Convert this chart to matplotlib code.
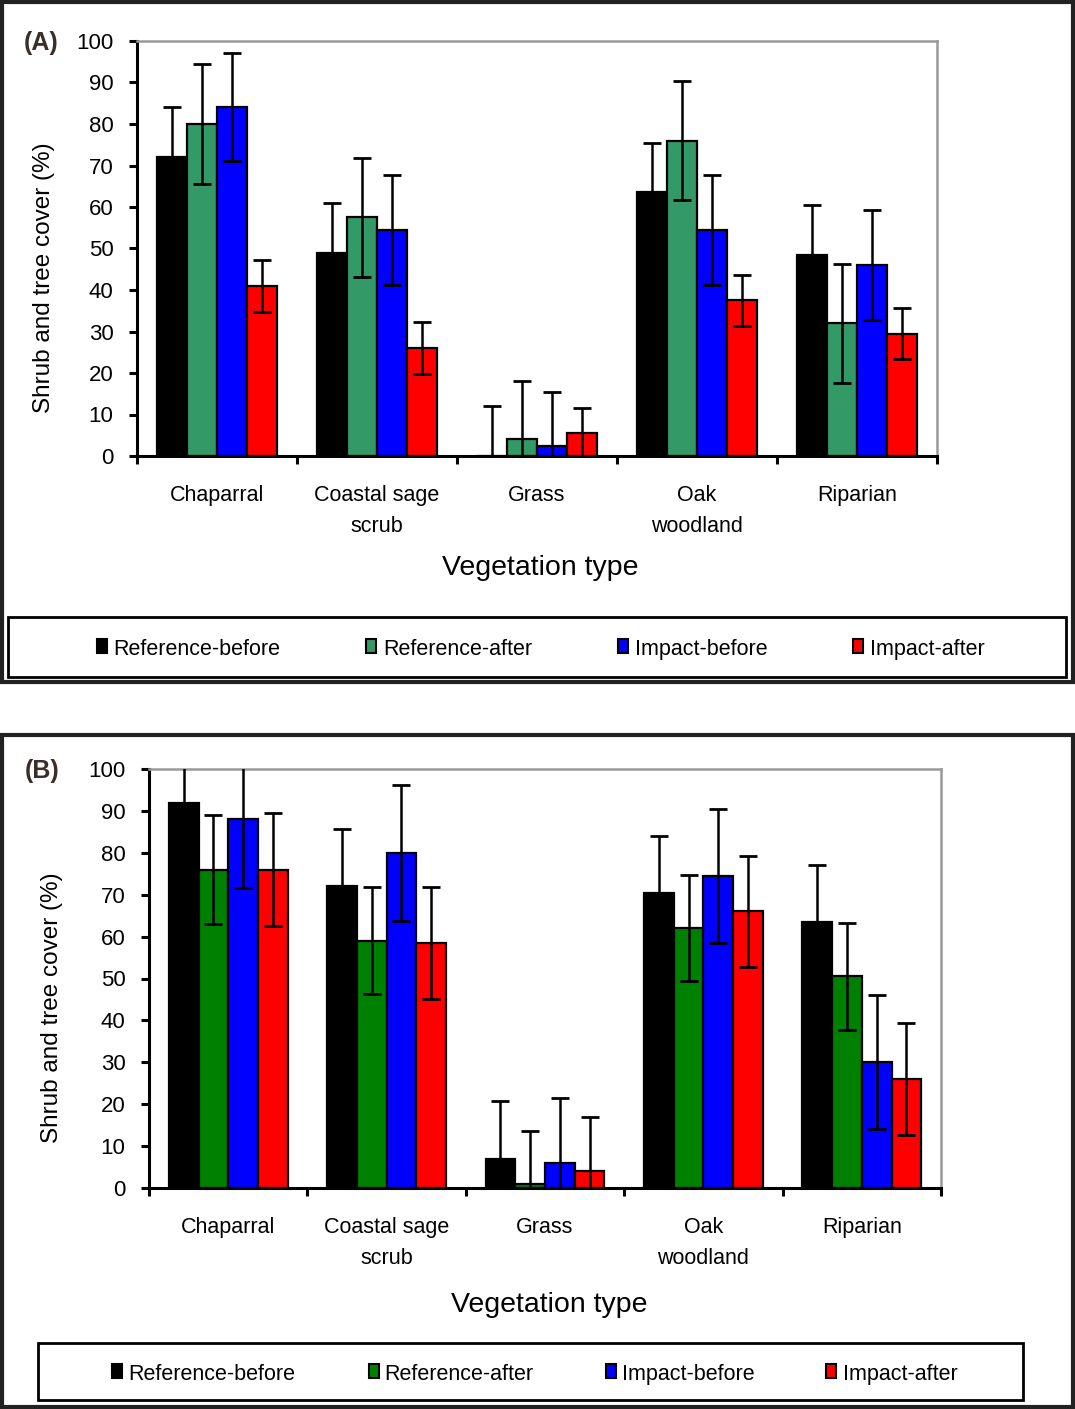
import matplotlib
matplotlib.use('Agg')
import matplotlib.pyplot as plt
import numpy as np
from matplotlib.patches import Rectangle

plt.rcParams['font.family'] = ['Liberation Sans', 'DejaVu Sans']

categories = ['Chaparral', 'Coastal sage\nscrub', 'Grass', 'Oak\nwoodland', 'Riparian']
series = ['Reference-before', 'Reference-after', 'Impact-before', 'Impact-after']
yticks = [0, 10, 20, 30, 40, 50, 60, 70, 80, 90, 100]

# panel A
a_ref_before = [72, 49, 0, 63.5, 48.5]
a_ref_before_err = [12, 12, 12, 12, 12]
a_ref_after = [80, 57.5, 4, 76, 32]
a_ref_after_err = [14.5, 14.4, 14, 14.3, 14.3]
a_imp_before = [84, 54.5, 2.5, 54.5, 46]
a_imp_before_err = [13, 13.2, 13, 13.2, 13.2]
a_imp_after = [41, 26, 5.5, 37.5, 29.5]
a_imp_after_err = [6.2, 6.2, 6, 6.2, 6.2]

# panel B
b_ref_before = [92, 72, 7, 70.5, 63.5]
b_ref_before_err = [14, 13.6, 13.7, 13.5, 13.7]
b_ref_after = [76, 59, 1, 62, 50.5]
b_ref_after_err = [13, 12.8, 12.5, 12.7, 12.8]
b_imp_before = [88, 80, 6, 74.5, 30]
b_imp_before_err = [16.3, 16.3, 15.5, 16, 16]
b_imp_after = [76, 58.5, 4, 66, 26]
b_imp_after_err = [13.5, 13.4, 13, 13.3, 13.3]

colors_a = ['#000000', '#339966', '#0000ff', '#ff0000']
colors_b = ['#000000', '#008000', '#0000ff', '#ff0000']

W, H = 1075, 1409
fig = plt.figure(figsize=(W / 100, H / 100), dpi=100)


def fx(px):
    return px / W


def fy(py):
    return 1 - py / H


def panel(box, vals, errs, colors, tag, tag_xy, ylab_xy, xlab_xy, frame, leg_box, leg_sw, leg_tx):
    l, t, r, b = box
    ax = fig.add_axes([fx(l), fy(b), fx(r) - fx(l), fy(t) - fy(b)])
    x = np.arange(len(categories))
    w = 0.1875
    for i in range(4):
        pos = x + (i - 1.5) * w
        ax.bar(pos, vals[i], w, color=colors[i], edgecolor='black', linewidth=1.6, zorder=2)
        ax.errorbar(pos, vals[i], yerr=errs[i], fmt='none', ecolor='black',
                    elinewidth=1.8, capsize=6.5, capthick=2, zorder=3)
    ax.set_xlim(-0.5, 4.5)
    ax.set_ylim(0, 100)
    ax.set_yticks(yticks)
    ax.set_xticks(x)
    ax.set_xticklabels(categories, fontsize=15.5, linespacing=1.6)
    ax.set_xticks(np.arange(-0.5, 5, 1), minor=True)
    ax.tick_params(axis='x', which='major', length=0, pad=21)
    ax.tick_params(axis='x', which='minor', length=6, width=2.2, direction='out')
    ax.tick_params(axis='y', length=6, width=2.2, direction='out', labelsize=16, pad=11)
    for s in ['left', 'bottom']:
        ax.spines[s].set_linewidth(2.2)
        ax.spines[s].set_color('black')
    for s in ['top', 'right']:
        ax.spines[s].set_linewidth(1.8)
        ax.spines[s].set_color('#999999')

    fig.text(fx(tag_xy[0]), fy(tag_xy[1]), tag, fontsize=18, fontweight='bold',
             color='#3b2e28', ha='center', va='center')
    fig.text(fx(ylab_xy[0]), fy(ylab_xy[1]), 'Shrub and tree cover (%)', fontsize=17.5,
             rotation=90, ha='center', va='center')
    fig.text(fx(xlab_xy[0]), fy(xlab_xy[1]), 'Vegetation type', fontsize=20.5,
             ha='center', va='center')

    fig.patches.append(Rectangle((fx(frame[0]), fy(frame[3])), fx(frame[2]) - fx(frame[0]),
                                 fy(frame[1]) - fy(frame[3]), transform=fig.transFigure,
                                 fill=False, edgecolor='#222222', linewidth=3))
    fig.patches.append(Rectangle((fx(leg_box[0]), fy(leg_box[3])), fx(leg_box[2]) - fx(leg_box[0]),
                                 fy(leg_box[1]) - fy(leg_box[3]), transform=fig.transFigure,
                                 fill=False, edgecolor='black', linewidth=2))
    ly = (leg_box[1] + leg_box[3]) / 2
    for i in range(4):
        fig.patches.append(Rectangle((fx(leg_sw[i]), fy(ly + 6)), fx(10), 14 / H,
                                     transform=fig.transFigure, facecolor=colors[i],
                                     edgecolor='black', linewidth=1.5))
        fig.text(fx(leg_tx[i]), fy(ly + 3), series[i], fontsize=15.5, ha='left', va='center')
    return ax


panel((137, 41, 937, 456),
      [a_ref_before, a_ref_after, a_imp_before, a_imp_after],
      [a_ref_before_err, a_ref_after_err, a_imp_before_err, a_imp_after_err],
      colors_a, '(A)', (41, 43), (44, 278), (540, 568), (2, 2, 1073, 682),
      (8, 617, 1066, 677), [97, 366, 618, 853], [113, 383, 635, 870])

panel((149, 769, 941, 1188),
      [b_ref_before, b_ref_after, b_imp_before, b_imp_after],
      [b_ref_before_err, b_ref_after_err, b_imp_before_err, b_imp_after_err],
      colors_b, '(B)', (42, 771), (52, 1008), (549, 1305), (2, 735, 1073, 1407),
      (38, 1343, 1023, 1400), [112, 369, 606, 826], [128, 384, 622, 843])

fig.savefig('out.png', dpi=100)
